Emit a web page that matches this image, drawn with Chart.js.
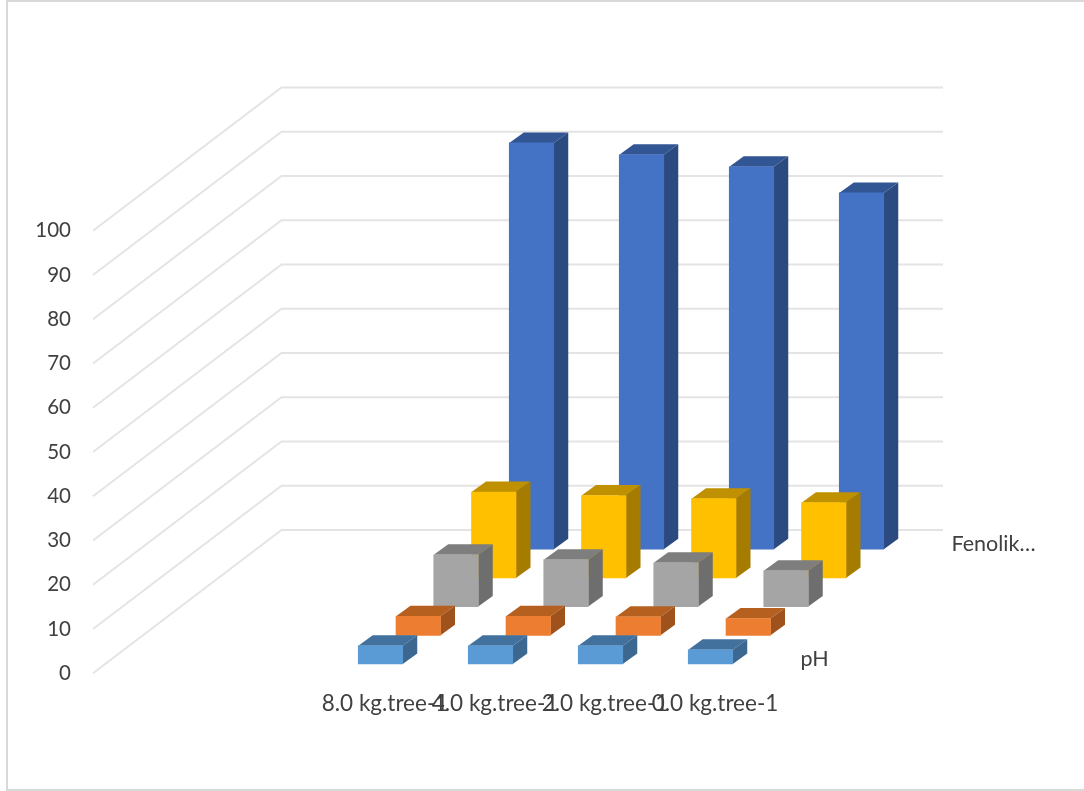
<!DOCTYPE html>
<html lang="en">
  <head>
    <meta charset="UTF-8" />
    <title>Chart</title>
    <script src="https://cdn.jsdelivr.net/npm/chart.js"></script>
    <style>
      html, body { margin: 0; padding: 0; background: #fff; overflow: hidden; }
      #wrap { position: relative; width: 1084px; height: 791px; }
      #frame {
        position: absolute; left: 6px; top: 0; right: 0; bottom: 0;
        border: 2px solid #d9d9d9; border-right: none;
      }
      canvas { position: absolute; left: 0; top: 0; }
    </style>
  </head>
  <body>
    <div id="wrap">
      <div id="frame"></div>
      <canvas id="chart" width="1084" height="791"></canvas>
    </div>

    <script>
      const categories = ["8.0 kg.tree-1", "4.0 kg.tree-1", "2.0 kg.tree-1", "0.0 kg.tree-1"];

      // front row first, Chart.js paints the last dataset first so depth works out
      const seriesNames = ["pH", "", "", "", "Fenolik…"];
      const phValues = [4.1, 4.1, 4.1, 3.2];
      const secondValues = [4.3, 4.3, 4.2, 3.8];
      const thirdValues = [11.7, 10.6, 9.9, 8.1];
      const fourthValues = [19.4, 18.6, 17.9, 17.0];
      const fenolikValues = [91.8, 89.1, 86.4, 80.5];

      const frontColors = ["#5b9bd5", "#ed7d31", "#a5a5a5", "#ffc000", "#4472c4"];
      const topColors = ["#41719c", "#b5601f", "#7e7e7e", "#bf9000", "#325594"];
      const sideColors = ["#3b6791", "#a0521c", "#6e6e6e", "#a67c00", "#2b4a80"];

      const yMax = 100;
      const yStep = 10;

      // oblique projection, px
      const ROW_DX = 37.75, ROW_DY = 28.7;
      const FIRST_DX = -4.5, FIRST_DY = 9.3;
      const BAR_DX = 14.5, BAR_DY = 10.5;
      const WALL_DX = 188.5, WALL_DY = 143.3;
      const GRID_LEFT = 93, GRID_RIGHT = 943;

      const rowOffset = (i) => ({
        x: FIRST_DX + ROW_DX * i,
        y: -FIRST_DY - ROW_DY * i
      });

      const depthBars = {
        id: "depthBars",
        beforeDatasetsDraw(chart) {
          const { ctx, scales: { y } } = chart;
          ctx.save();
          ctx.strokeStyle = "#e4e4e4";
          ctx.lineWidth = 2;
          y.ticks.forEach((t) => {
            const py = y.getPixelForValue(t.value);
            ctx.beginPath();
            ctx.moveTo(GRID_LEFT, py);
            ctx.lineTo(GRID_LEFT + WALL_DX, py - WALL_DY);
            ctx.lineTo(GRID_RIGHT, py - WALL_DY);
            ctx.stroke();
          });
          ctx.restore();
        },
        beforeDatasetDraw(chart, args) {
          const { ctx } = chart;
          const off = rowOffset(args.index);
          ctx.save();
          ctx.translate(off.x, off.y);
          args.meta.data.forEach((bar) => {
            const l = bar.x - bar.width / 2;
            const r = bar.x + bar.width / 2;
            ctx.fillStyle = topColors[args.index];
            ctx.beginPath();
            ctx.moveTo(l, bar.y);
            ctx.lineTo(l + BAR_DX, bar.y - BAR_DY);
            ctx.lineTo(r + BAR_DX, bar.y - BAR_DY);
            ctx.lineTo(r, bar.y);
            ctx.closePath();
            ctx.fill();
            ctx.fillStyle = sideColors[args.index];
            ctx.beginPath();
            ctx.moveTo(r, bar.y);
            ctx.lineTo(r + BAR_DX, bar.y - BAR_DY);
            ctx.lineTo(r + BAR_DX, bar.base - BAR_DY);
            ctx.lineTo(r, bar.base);
            ctx.closePath();
            ctx.fill();
          });
        },
        afterDatasetDraw(chart) {
          chart.ctx.restore();
        },
        afterDatasetsDraw(chart) {
          // depth axis labels
          const { ctx, chartArea, scales: { y } } = chart;
          ctx.save();
          ctx.font = '21.5px Lato';
          ctx.fillStyle = "#404040";
          ctx.textBaseline = "middle";
          seriesNames.forEach((name, i) => {
            const off = rowOffset(i);
            ctx.fillText(name, chartArea.right + 35 + off.x, y.getPixelForValue(0) + off.y - 5);
          });
          ctx.restore();
        }
      };

      new Chart(document.getElementById("chart"), {
        type: "bar",
        data: {
          labels: categories,
          datasets: [phValues, secondValues, thirdValues, fourthValues, fenolikValues].map((values, i) => ({
            label: seriesNames[i],
            data: values,
            backgroundColor: frontColors[i],
            borderWidth: 0,
            clip: false
          }))
        },
        plugins: [depthBars],
        options: {
          responsive: false,
          animation: false,
          layout: { padding: { top: 230.7, right: 314, left: 0, bottom: 0 } },
          plugins: {
            legend: { display: false },
            tooltip: { enabled: false }
          },
          datasets: { bar: { grouped: false, barThickness: 44.5 } },
          scales: {
            x: {
              grid: { display: false },
              border: { display: false },
              afterFit(axis) { axis.height = 117.7; },
              ticks: {
                autoSkip: false,
                maxRotation: 0,
                minRotation: 0,
                padding: 9,
                color: "#404040",
                font: { family: "Lato", size: 22.5 }
              }
            },
            y: {
              min: 0,
              max: yMax,
              grid: { display: false },
              border: { display: false },
              afterFit(axis) {
                // the wide tick padding would otherwise shrink the plot height
                axis.width = 330;
                axis.paddingTop = 0;
                axis.paddingBottom = 0;
              },
              ticks: {
                stepSize: yStep,
                padding: 251,
                color: "#404040",
                font: { family: "Lato", size: 20.5 }
              }
            }
          }
        }
      });
    </script>
  </body>
</html>
